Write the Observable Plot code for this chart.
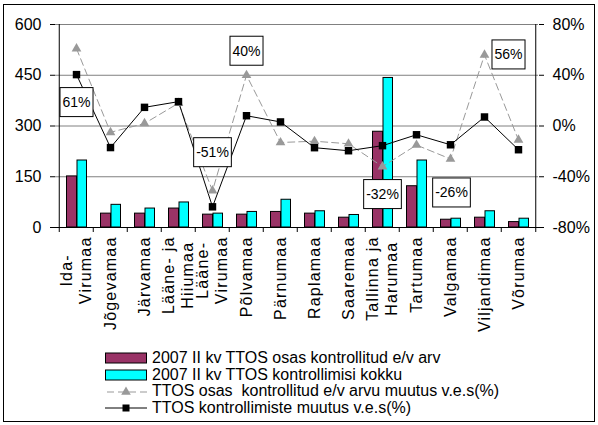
<!DOCTYPE html>
<html><head><meta charset="utf-8">
<script src="https://cdn.jsdelivr.net/npm/d3@7"></script>
<script src="https://cdn.jsdelivr.net/npm/@observablehq/plot@0.6"></script>
<style>
body{margin:0;overflow:hidden;background:#fff;font-family:"Liberation Sans",Arial,sans-serif;}
#wrap{position:relative;width:598px;height:425px;overflow:hidden;background:#fff;}
#frame{position:absolute;left:3px;top:4px;width:592px;height:418px;border:1px solid #000;box-sizing:border-box;}
#chart{position:absolute;left:0;top:0;}
.leg{position:absolute;left:105px;height:16px;display:flex;align-items:center;font-size:16px;white-space:nowrap;color:#000;}
.leg svg{display:block;margin-right:5px;}
</style></head><body>
<div id="wrap"><div id="frame"></div><div id="chart"></div><div id="legend"></div></div>
<script>
// ---- data ----
const regions = ["Ida-\nVirumaa","Jõgevamaa","Järvamaa","Lääne- ja\nHiiumaa","Lääne-\nVirumaa","Põlvamaa","Pärnumaa","Raplamaa","Saaremaa","Tallinna ja\nHarumaa","Tartumaa","Valgamaa","Viljandimaa","Võrumaa"];
const checkedVehicles = [151,41,41,56,38,38,46,41,29,283,122,23,29,16];
const inspectionsTotal = [198,67,56,74,41,46,82,48,37,442,198,26,48,26];
const vehiclesChangePct = [61,-5,2,18,-51,40,-13,-12,-14,-32,-15,-26,56,-11];
const inspectionsChangePct = [40.5,-17,14.7,19.2,-63.7,8.1,3.2,-17.1,-19.5,-15.5,-6.9,-14.8,7.1,-18.7];
const leftTicks = [0,150,300,450,600];
const rightTicks = [-80,-40,0,40,80];
const labelledRegions = [0,4,5,9,11,12];
const seriesNames = [
  "2007 II kv TTOS osas kontrollitud e/v arv",
  "2007 II kv TTOS kontrollimisi kokku",
  "TTOS osas  kontrollitud e/v arvu muutus v.e.s(%)",
  "TTOS kontrollimiste muutus v.e.s(%)"
];

// ---- styles / layout ----
const W = 598, H = 340, mL = 55, mR = 60, mT = 24, mB = 113;
const bw = (W - mL - mR) / regions.length;
const FONT = "'Liberation Sans', Arial, sans-serif";
const purple = "#993366", cyan = "#00FFFF", grayLine = "#999999";
const labelOffsets = {0:[0,54], 4:[0,-38], 5:[0,-24], 9:[0,28], 11:[1,34], 12:[24,0]};
const xLabelSize = 16, xLabelSpacing = 1.2, xLabelLine = 19.5, xLabelPad = 9;

const pMin = rightTicks[0], pMax = rightTicks[rightTicks.length-1];
const yMax = leftTicks[leftTicks.length-1];
const toLeft = p => (p - pMin) * yMax / (pMax - pMin);
const fromLeft = v => Math.round(v * (pMax - pMin) / yMax + pMin);
const idx = d3.range(regions.length);

// measure label lines so each rotated block hangs from the axis and shorter lines are centred
const ctx = document.createElement("canvas").getContext("2d");
ctx.font = `${xLabelSize}px 'Liberation Sans', Arial, sans-serif`;
const measure = s => ctx.measureText(s).width + xLabelSpacing * s.length;
const xLabelMarks = [];
regions.forEach(region => {
  const lines = region.split("\n");
  const maxLen = Math.max(...lines.map(measure));
  lines.forEach((line, k) => {
    xLabelMarks.push(Plot.text([region], {
      x: d => d, y: () => 0, text: () => line,
      rotate: -90, textAnchor: "middle", lineAnchor: "middle",
      dx: (k - (lines.length - 1) / 2) * xLabelLine,
      dy: xLabelPad + maxLen / 2,
      fontSize: xLabelSize, fill: "#000", className: "xlabel"
    }));
  });
});

const labelMarks = labelledRegions.map(i => Plot.text([i], {
  x: j => regions[j], y: j => toLeft(vehiclesChangePct[j]),
  text: j => vehiclesChangePct[j] + "%",
  dx: labelOffsets[i][0], dy: labelOffsets[i][1],
  fontSize: 14, fill: "#000", className: "pctlabel"
}));

const chart = Plot.plot({
  width: W, height: H,
  marginLeft: mL, marginRight: mR, marginTop: mT, marginBottom: mB,
  style: {fontFamily: FONT, fontSize: "16px", background: "transparent", overflow: "visible", color: "#000"},
  x: {type: "band", domain: regions, padding: 0, axis: null},
  y: {domain: [0, yMax]},
  marks: [
    Plot.ruleY(leftTicks.filter(d => d > 0), {stroke: "#808080", strokeWidth: 1}),
    Plot.barY(idx, {x: i => regions[i], y: i => checkedVehicles[i], fill: purple, stroke: "#000", strokeWidth: 1, insetLeft: 7.5, insetRight: 16.5}),
    Plot.barY(idx, {x: i => regions[i], y: i => inspectionsTotal[i], fill: cyan, stroke: "#000", strokeWidth: 1, insetLeft: 18, insetRight: 6.5}),
    Plot.ruleX([regions[0]], {stroke: "#000", dx: -bw/2}),
    Plot.ruleX([regions[regions.length-1]], {stroke: "#000", dx: bw/2}),
    Plot.ruleY([0], {stroke: "#000", insetLeft: -5, insetRight: -5}),
    Plot.ruleX(regions, {x: d => d, y1: 0, y2: 0, insetBottom: -5, dx: -bw/2, stroke: "#000"}),
    Plot.ruleX([regions[regions.length-1]], {x: d => d, y1: 0, y2: 0, insetBottom: -5, dx: bw/2, stroke: "#000"}),
    Plot.line(idx, {x: i => regions[i], y: i => toLeft(vehiclesChangePct[i]), stroke: grayLine, strokeWidth: 1, strokeDasharray: "7,4"}),
    Plot.line(idx, {x: i => regions[i], y: i => toLeft(inspectionsChangePct[i]), stroke: "#000", strokeWidth: 1}),
    Plot.dot(idx, {x: i => regions[i], y: i => toLeft(vehiclesChangePct[i]), symbol: "triangle", r: 3.6, fill: grayLine, stroke: "none"}),
    Plot.dot(idx, {x: i => regions[i], y: i => toLeft(inspectionsChangePct[i]), symbol: "square", r: 4.2, fill: "#000", stroke: "none"}),
    ...labelMarks,
    ...xLabelMarks,
    Plot.axisY({ticks: leftTicks, anchor: "left", tickSize: 5, tickPadding: 9, fontSize: 16, label: null, tickFormat: d => String(d)}),
    Plot.axisY({ticks: rightTicks.map(toLeft), anchor: "right", tickSize: 5, tickPadding: 9, fontSize: 16, label: null, tickFormat: v => fromLeft(v) + "%"})
  ]
});
document.getElementById("chart").appendChild(chart);

const labelSet = new Set(labelledRegions.map(i => vehiclesChangePct[i] + "%"));
const allTexts = Array.from(chart.querySelectorAll("text"));

// boxes behind the percent labels (text marks, not the right axis)
allTexts.forEach(t => {
  const g = t.parentNode;
  const isLabel = (g.getAttribute("class") || "").includes("pctlabel") || g.getAttribute("aria-label") === "text";
  if (!isLabel || !labelSet.has(t.textContent) || (t.getAttribute("transform") || "").includes("rotate")) return;
  const bb = t.getBBox();
  const padX = 2.5, padY = 6.5;
  const r = document.createElementNS("http://www.w3.org/2000/svg", "rect");
  r.setAttribute("x", bb.x - padX); r.setAttribute("y", bb.y - padY);
  r.setAttribute("width", bb.width + 2*padX); r.setAttribute("height", bb.height + 2*padY);
  r.setAttribute("fill", "#fff"); r.setAttribute("stroke", "#000"); r.setAttribute("stroke-width", 1);
  if (t.getAttribute("transform")) r.setAttribute("transform", t.getAttribute("transform"));
  g.insertBefore(r, t);
});

// letter spacing of the rotated region labels
allTexts.filter(t => (t.getAttribute("transform") || "").includes("rotate"))
  .forEach(t => { t.style.letterSpacing = xLabelSpacing + "px"; });

// legend
const legend = document.getElementById("legend");
const rowTops = [350, 366.5, 383, 399.5];
const swatches = [
  `<svg width="42" height="12"><rect x="0.5" y="1" width="41" height="10" fill="${purple}" stroke="#000"/></svg>`,
  `<svg width="42" height="12"><rect x="0.5" y="1" width="41" height="10" fill="${cyan}" stroke="#000"/></svg>`,
  `<svg width="42" height="12"><line x1="0" x2="42" y1="7" y2="7" stroke="${grayLine}" stroke-dasharray="7,4" stroke-dashoffset="-2"/><path d="${d3.symbol(d3.symbolTriangle, 40)()}" transform="translate(21,7)" fill="${grayLine}"/></svg>`,
  `<svg width="42" height="12"><line x1="0" x2="42" y1="6" y2="6" stroke="#000"/><rect x="17.5" y="2.5" width="7" height="7" fill="#000"/></svg>`
];
seriesNames.forEach((name, k) => {
  const row = document.createElement("div");
  row.className = "leg";
  row.style.top = rowTops[k] + "px";
  row.innerHTML = swatches[k] + `<span>${name.replace(/  /g, "&nbsp; ")}</span>`;
  legend.appendChild(row);
});
</script>
</body></html>
